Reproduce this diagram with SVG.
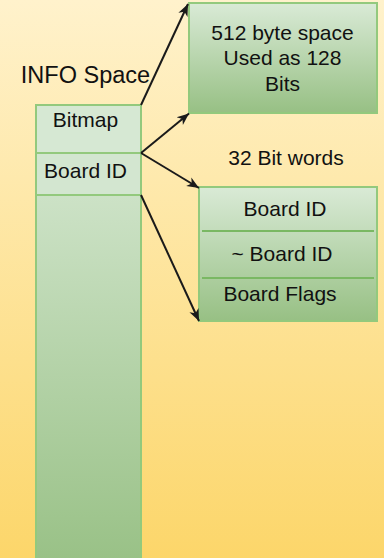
<svg xmlns="http://www.w3.org/2000/svg" width="384" height="558" viewBox="0 0 384 558">
<defs>
<linearGradient id="bg" x1="0" y1="0" x2="0" y2="1">
<stop offset="0" stop-color="#fff2cc"/>
<stop offset="1" stop-color="#fcd66a"/>
</linearGradient>
<linearGradient id="grn" x1="0" y1="0" x2="0" y2="1">
<stop offset="0" stop-color="#d9ead6"/>
<stop offset="1" stop-color="#97c084"/>
</linearGradient>
<marker id="ah" markerUnits="userSpaceOnUse" markerWidth="14" markerHeight="12" refX="12" refY="5" orient="auto" viewBox="0 0 14 10">
<path d="M0,0 L12,5 L0,10 L3.5,5 Z" fill="#1a1a1a"/>
</marker>
<style>
.box{stroke:#93c97d;stroke-width:2}
.div{stroke:#7ab863;stroke-width:2}
.t{font-family:"Liberation Sans",Arial,sans-serif;font-size:21px;fill:#111;text-anchor:middle}
.c{stroke:#1a1a1a;stroke-width:2;fill:none}
</style>
</defs>
<rect x="0" y="0" width="384" height="558" fill="url(#bg)"/>
<text class="t" x="85.5" y="83" style="font-size:23.5px">INFO Space</text>
<g id="column">
<rect class="box" x="36" y="105" width="105" height="470" fill="url(#grn)"/>
</g>
<g id="bitmap">
<rect class="box" x="36" y="105" width="105" height="48" fill="#d6e8d3"/>
<text class="t" x="85.5" y="127">Bitmap</text>
</g>
<g id="boardid">
<rect class="box" x="36" y="153" width="105" height="42" fill="#d3e6d0"/>
<text class="t" x="85.5" y="178">Board ID</text>
</g>
<g id="bitspace">
<rect class="box" x="189" y="3" width="188" height="110" fill="url(#grn)"/>
<text class="t" x="282.5" y="39.5">512 byte space</text>
<text class="t" x="282.5" y="65">Used as 128</text>
<text class="t" x="282.5" y="90.5">Bits</text>
</g>
<text class="t" x="286" y="165">32 Bit words</text>
<g id="words">
<rect class="box" x="199" y="187" width="178" height="134" fill="url(#grn)"/>
<line class="div" x1="202" y1="231" x2="374" y2="231"/>
<line class="div" x1="202" y1="278" x2="374" y2="278"/>
<text class="t" x="285" y="216">Board ID</text>
<text class="t" x="282" y="260.5">~ Board ID</text>
<text class="t" x="280" y="300.5">Board Flags</text>
</g>
<g id="connectors">
<line class="c" x1="141" y1="105" x2="188" y2="4" marker-end="url(#ah)"/>
<line class="c" x1="141" y1="153" x2="189" y2="113.5" marker-end="url(#ah)"/>
<line class="c" x1="141" y1="153" x2="199" y2="188" marker-end="url(#ah)"/>
<line class="c" x1="141" y1="195" x2="199" y2="321" marker-end="url(#ah)"/>
</g>
</svg>
